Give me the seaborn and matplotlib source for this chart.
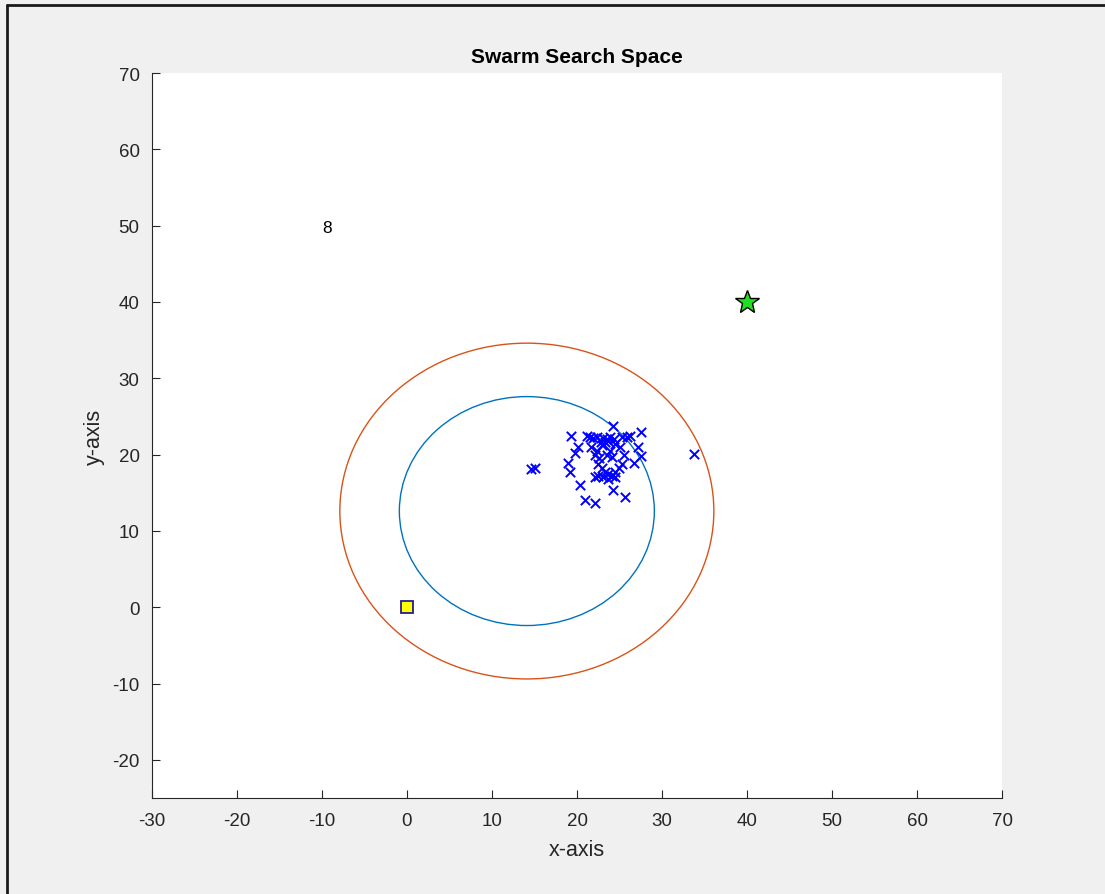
import matplotlib
matplotlib.use("Agg")
import matplotlib.pyplot as plt
from matplotlib.patches import Circle
from matplotlib.lines import Line2D
import numpy as np
import pandas as pd
import seaborn as sns

# Swarm particle positions
swarm_x = [33.8, 14.6, 15.1, 19.3, 21.2, 21.5, 21.9, 22.4, 23.1, 23.5, 23.9, 24.2,
           25.3, 25.9, 26.2, 27.5, 20.1, 19.8, 27.2, 27.5, 26.7, 18.9, 19.2, 20.4,
           20.9, 22.1, 24.2, 25.6, 22.3, 22.6, 22.5, 22.9, 23.3, 23.7, 24.1, 24.5,
           24.9, 25.3, 25.5, 25.1, 24.5, 22.9, 23.3, 23.7, 22.5, 22.1, 23.1, 23.7,
           24.5, 21.7, 22.1, 23.9, 24.1, 23.5, 24.3, 22.8]
swarm_y = [20.1, 18.1, 18.3, 22.4, 22.4, 22.3, 22.2, 22.3, 22.2, 22.1, 22.3, 23.7,
           22.3, 22.3, 22.4, 22.9, 21.0, 20.2, 21.0, 19.8, 18.9, 18.9, 17.7, 16.0,
           14.0, 13.6, 15.3, 14.4, 20.5, 19.6, 18.8, 18.3, 17.7, 17.5, 17.2, 17.7,
           18.3, 18.8, 19.9, 21.0, 21.4, 21.2, 21.6, 21.8, 17.2, 17.0, 17.0, 16.8,
           17.0, 21.0, 19.9, 20.5, 19.7, 20.0, 22.0, 21.7]

# Search-region circles
circle_center = (14.1, 12.6)
circle_radii = [15.0, 22.0]
circle_colors = ["#0072BD", "#D95319"]

# Start, goal and annotation
start_xy = (0, 0)
goal_xy = (40, 40)
label_xy = (-10, 49.7)
label_text = "8"

x_ticks = list(range(-30, 71, 10))
y_ticks = list(range(-20, 71, 10))

sns.set_style("white")
plt.rcParams["font.family"] = ["Liberation Sans", "DejaVu Sans"]
plt.rcParams["axes.unicode_minus"] = False
plt.rcParams["xtick.bottom"] = True
plt.rcParams["ytick.left"] = True

fig = plt.figure(figsize=(11.05, 8.95), dpi=100, facecolor="#f0f0f0")
ax = fig.add_axes([152 / 1105, 1 - 799 / 895, 850 / 1105, 725 / 895])
ax.set_facecolor("white")

for r, c in zip(circle_radii, circle_colors):
    ax.add_patch(Circle(circle_center, r, fill=False, edgecolor=c, linewidth=1.0))

df = pd.DataFrame({"x": swarm_x, "y": swarm_y})
sns.scatterplot(data=df, x="x", y="y", marker="x", color="#0000ff", s=45,
                linewidth=1.4, ax=ax, zorder=3)

ax.plot(*start_xy, marker="s", markersize=9, markerfacecolor="#ffff00",
        markeredgecolor="#1f1f8f", markeredgewidth=1.3, linestyle="none", zorder=4)
ax.plot(*goal_xy, marker="*", markersize=18, markerfacecolor="#22dd22",
        markeredgecolor="black", markeredgewidth=1.0, linestyle="none", zorder=4)
ax.text(label_xy[0], label_xy[1], label_text, fontsize=12.5, ha="left", va="center",
        color="black")

ax.set_xlim(-30, 70)
ax.set_ylim(-25, 70)
ax.set_aspect("auto")
ax.set_xticks(x_ticks)
ax.set_yticks(y_ticks)
ax.tick_params(axis="both", which="major", direction="in", length=6, width=0.8,
               colors="#262626", labelsize=13.5)
ax.tick_params(axis="x", pad=10)
ax.tick_params(axis="y", pad=9)
for side in ("top", "right"):
    ax.spines[side].set_visible(False)
for side in ("left", "bottom"):
    ax.spines[side].set_color("#262626")
    ax.spines[side].set_linewidth(0.8)

ax.set_xlabel("x-axis", fontsize=15.5, color="#262626", labelpad=7)
ax.set_ylabel("y-axis", fontsize=15.5, color="#262626", labelpad=5)
ax.set_title("Swarm Search Space", fontsize=15, fontweight="bold", color="black", pad=8)

# Window frame along the top and left edges
fig.add_artist(Line2D([7 / 1105, 7 / 1105], [0, 1 - 6 / 895], transform=fig.transFigure,
                      color="#1a1a1a", linewidth=2))
fig.add_artist(Line2D([7 / 1105, 1], [1 - 6 / 895, 1 - 6 / 895], transform=fig.transFigure,
                      color="#1a1a1a", linewidth=2))

fig.savefig("out.png", dpi=100, facecolor=fig.get_facecolor())
